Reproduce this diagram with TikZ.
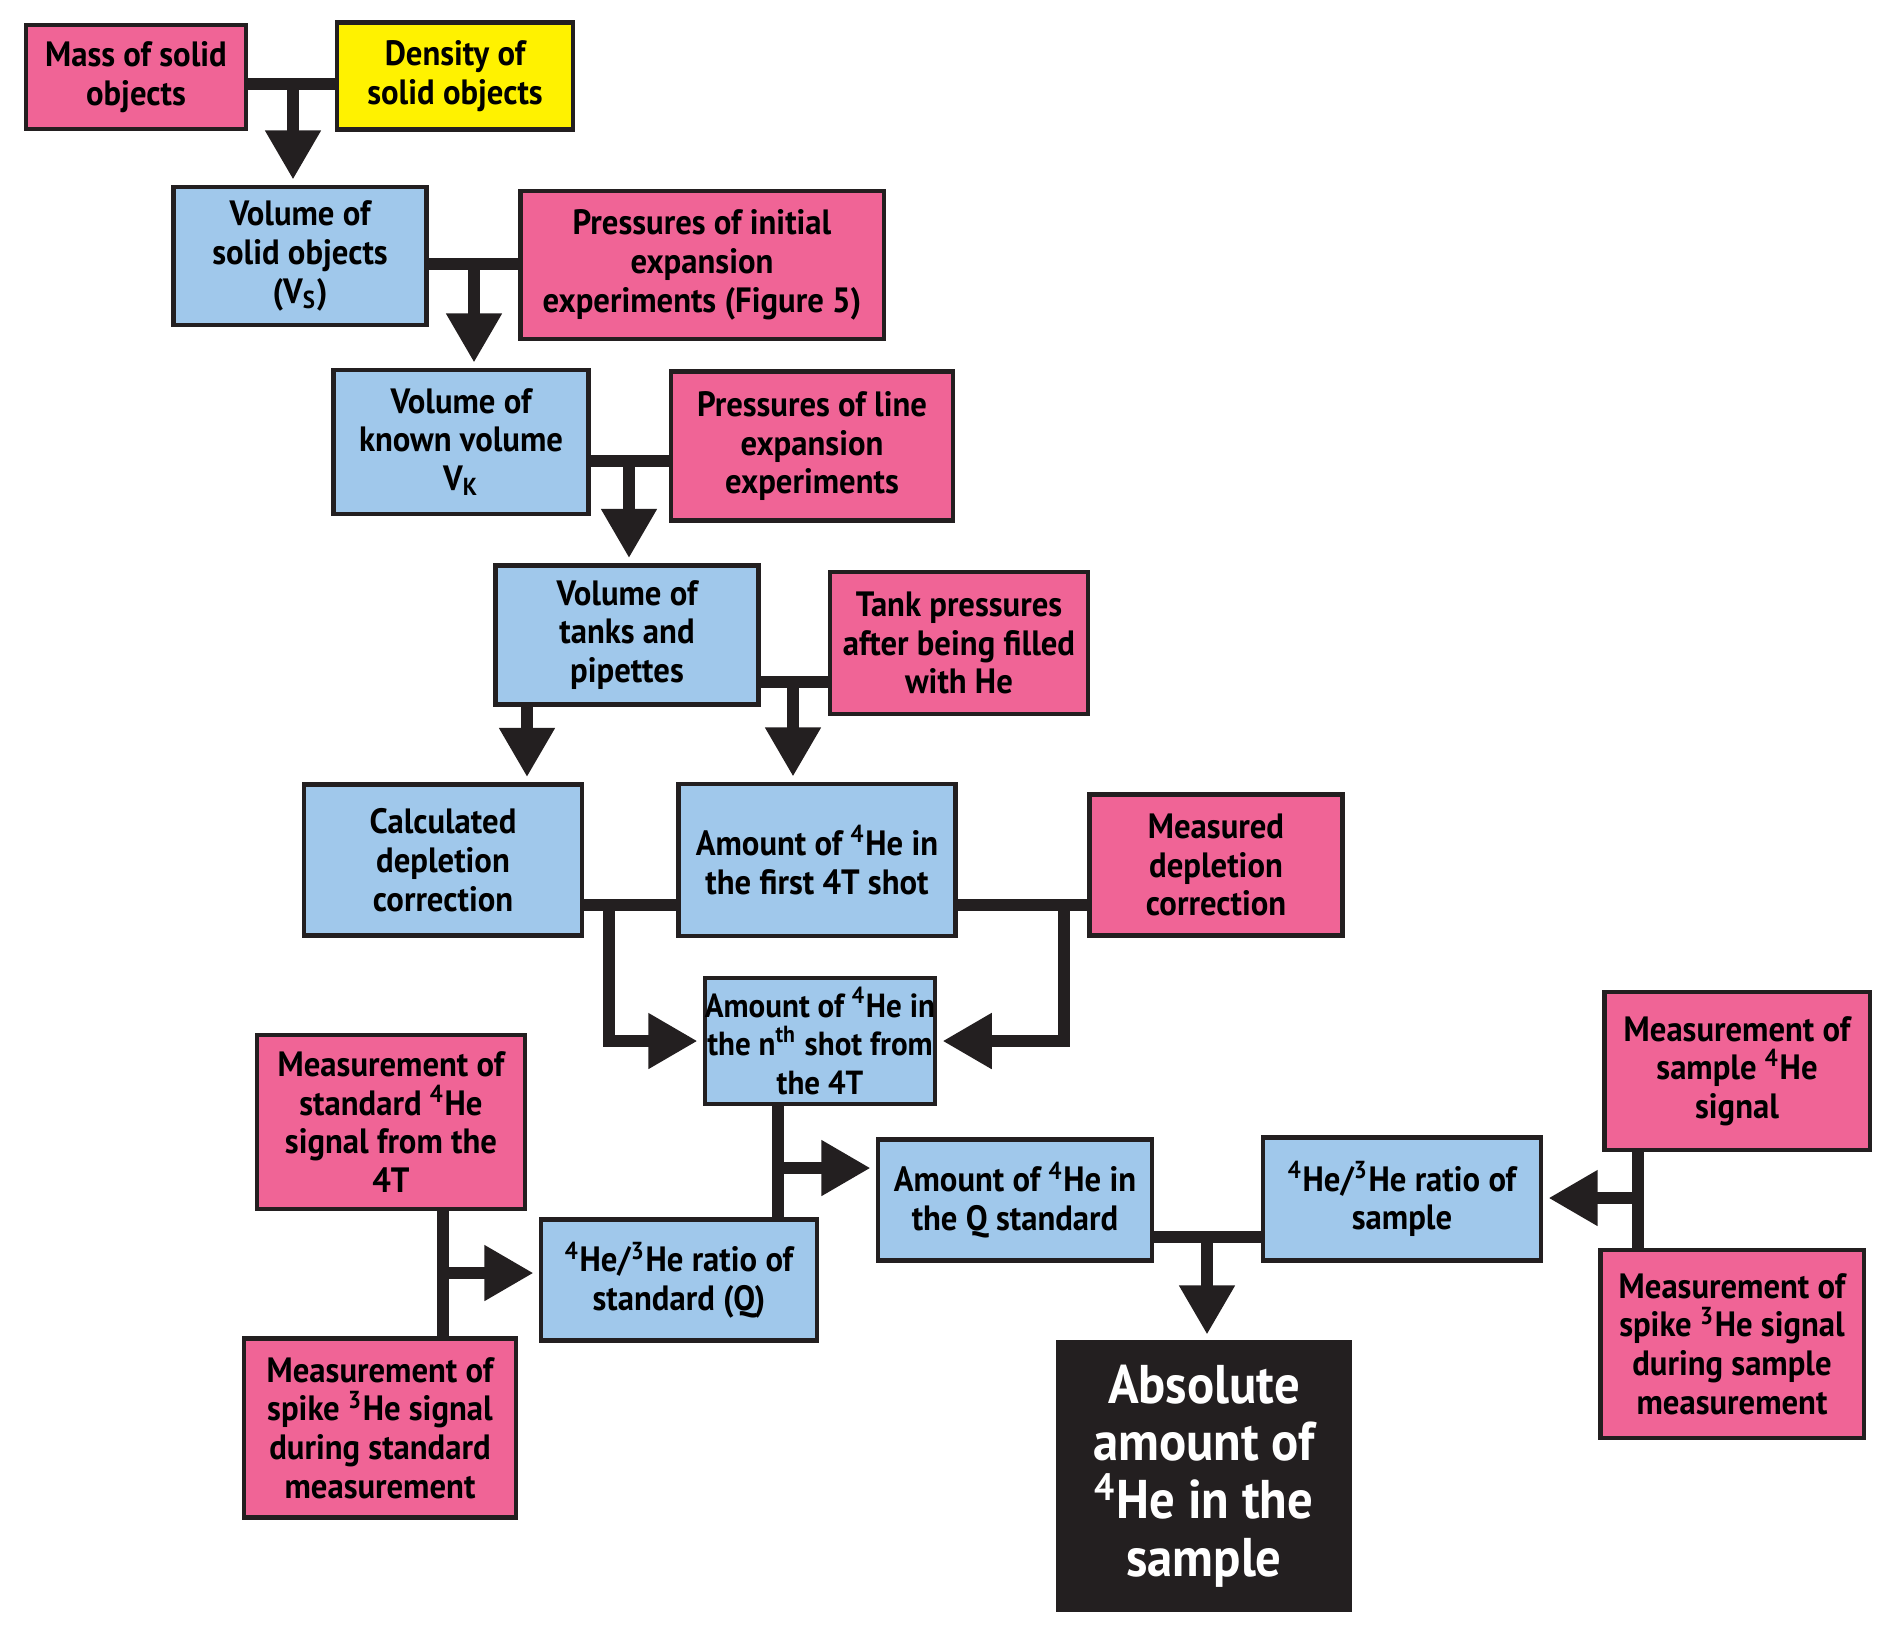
\documentclass[tikz,border=0pt]{standalone}
\usepackage{fontspec}
\setmainfont{PT Sans}[FakeStretch=0.93]
\usetikzlibrary{arrows.meta}

\definecolor{hepink}{HTML}{F06496}
\definecolor{heblue}{HTML}{A0C8EB}
\definecolor{heyellow}{HTML}{FFF200}
\definecolor{hedark}{HTML}{231F20}

\tikzset{
    box/.style={draw=hedark, line width=1.2pt, align=center, inner sep=2pt,
        font=\fontsize{10}{11}\selectfont\bfseries},
    pinkbox/.style={box, fill=hepink},
    bluebox/.style={box, fill=heblue},
    yellowbox/.style={box, fill=heyellow},
    bar/.style={draw=hedark, line width=3.4pt, line join=miter},
    arr/.style={bar, -{Triangle[width=15pt,length=14pt]}, shorten >=1.5pt},
}

\begin{document}
\begin{tikzpicture}[x=0.01cm, y=-0.01cm]
    \useasboundingbox (0,0) rectangle (1892,1635);

    % boxes
    \node[pinkbox, minimum width=2.20cm, minimum height=1.04cm] (mass) at (136,77) {Mass of solid\\objects};
    \node[yellowbox, minimum width=2.36cm, minimum height=1.07cm] (dens) at (455,76) {Density of\\solid objects};
    \node[bluebox, minimum width=2.53cm, minimum height=1.38cm] (vsol) at (300,256) {Volume of\\solid objects\\(V\textsubscript{S})};
    \node[pinkbox, minimum width=3.63cm, minimum height=1.48cm] (pinit) at (702,265) {Pressures of initial\\expansion\\experiments (Figure 5)};
    \node[bluebox, minimum width=2.55cm, minimum height=1.44cm] (vknown) at (461,442) {Volume of\\known volume\\V\textsubscript{K}};
    \node[pinkbox, minimum width=2.82cm, minimum height=1.49cm] (pline) at (812,446) {Pressures of line\\expansion\\experiments};
    \node[bluebox, minimum width=2.63cm, minimum height=1.39cm] (vtank) at (627,635) {Volume of\\tanks and\\pipettes};
    \node[pinkbox, minimum width=2.58cm, minimum height=1.42cm] (tankp) at (959,643) {Tank pressures\\after being filled\\with He};
    \node[bluebox, minimum width=2.78cm, minimum height=1.51cm] (calc) at (443,860) {Calculated\\depletion\\correction};
    \node[bluebox, minimum width=2.77cm, minimum height=1.52cm] (first) at (817,860) {Amount of \textsuperscript{4}He in\\the first 4T shot};
    \node[pinkbox, minimum width=2.53cm, minimum height=1.41cm] (meas) at (1216,865) {Measured\\depletion\\correction};
    \node[bluebox, minimum width=2.25cm, minimum height=1.26cm, inner xsep=0pt,
        font=\fontsize{9.5}{11}\selectfont\bfseries] (nth) at (820,1041) {Amount of \textsuperscript{4}He in\\the n\textsuperscript{th} shot from\\the 4T};
    \node[pinkbox, minimum width=2.68cm, minimum height=1.74cm] (mstd) at (391,1122) {Measurement of\\standard \textsuperscript{4}He\\signal from the\\4T};
    \node[bluebox, minimum width=2.76cm, minimum height=1.21cm] (rstd) at (679,1280) {\textsuperscript{4}He/\textsuperscript{3}He ratio of\\standard (Q)};
    \node[bluebox, minimum width=2.74cm, minimum height=1.21cm] (qstd) at (1015,1200) {Amount of \textsuperscript{4}He in\\the Q standard};
    \node[bluebox, minimum width=2.78cm, minimum height=1.23cm] (rsmp) at (1402,1199) {\textsuperscript{4}He/\textsuperscript{3}He ratio of\\sample};
    \node[pinkbox, minimum width=2.65cm, minimum height=1.58cm] (msmp) at (1737,1071) {Measurement of\\sample \textsuperscript{4}He\\signal};
    \node[pinkbox, minimum width=2.63cm, minimum height=1.88cm] (spsmp) at (1732,1344) {Measurement of\\spike \textsuperscript{3}He signal\\during sample\\measurement};
    \node[pinkbox, minimum width=2.72cm, minimum height=1.79cm] (spstd) at (380,1428) {Measurement of\\spike \textsuperscript{3}He signal\\during standard\\measurement};
    \node[box, fill=hedark, text=white, minimum width=2.91cm, minimum height=2.68cm,
        font=\fontsize{15.5}{16.4}\selectfont\bfseries] (abs) at (1204,1476) {Absolute\\amount of\\\textsuperscript{4}He in the\\sample};

    % junctions
    \coordinate (j1) at (293,84);
    \coordinate (j2) at (474,264);
    \coordinate (j3) at (629,461);
    \coordinate (j4) at (793,682);
    \coordinate (j5) at (527,0);
    \coordinate (j6) at (609,905);
    \coordinate (j7) at (1064,905);
    \coordinate (j8) at (778,1168);
    \coordinate (j9) at (443,1273);
    \coordinate (j10) at (1207,1237);
    \coordinate (j11) at (1638,1198);

    \draw[bar] (mass.east |- j1) -- (dens.west |- j1);
    \draw[arr] (j1) -- (j1 |- vsol.north);
    \draw[bar] (vsol.east |- j2) -- (pinit.west |- j2);
    \draw[arr] (j2) -- (j2 |- vknown.north);
    \draw[bar] (vknown.east |- j3) -- (pline.west |- j3);
    \draw[arr] (j3) -- (j3 |- vtank.north);
    \draw[bar] (vtank.east |- j4) -- (tankp.west |- j4);
    \draw[arr] (j4) -- (j4 |- first.north);
    \draw[arr] (j5 |- vtank.south) -- (j5 |- calc.north);

    \draw[bar] (calc.east |- j6) -- (first.west |- j6);
    \draw[bar] (first.east |- j7) -- (meas.west |- j7);
    \draw[arr] (j6) |- (nth.west);
    \draw[arr] (j7) |- (nth.east);

    \draw[bar] (j8 |- nth.south) -- (j8 |- rstd.north);
    \draw[arr] (j8) -- (j8 -| qstd.west);
    \draw[bar] (j9 |- mstd.south) -- (j9 |- spstd.north);
    \draw[arr] (j9) -- (j9 -| rstd.west);

    \draw[bar] (qstd.east |- j10) -- (rsmp.west |- j10);
    \draw[arr] (j10) -- (j10 |- abs.north);
    \draw[bar] (j11 |- msmp.south) -- (j11 |- spsmp.north);
    \draw[arr] (j11) -- (j11 -| rsmp.east);
\end{tikzpicture}
\end{document}
